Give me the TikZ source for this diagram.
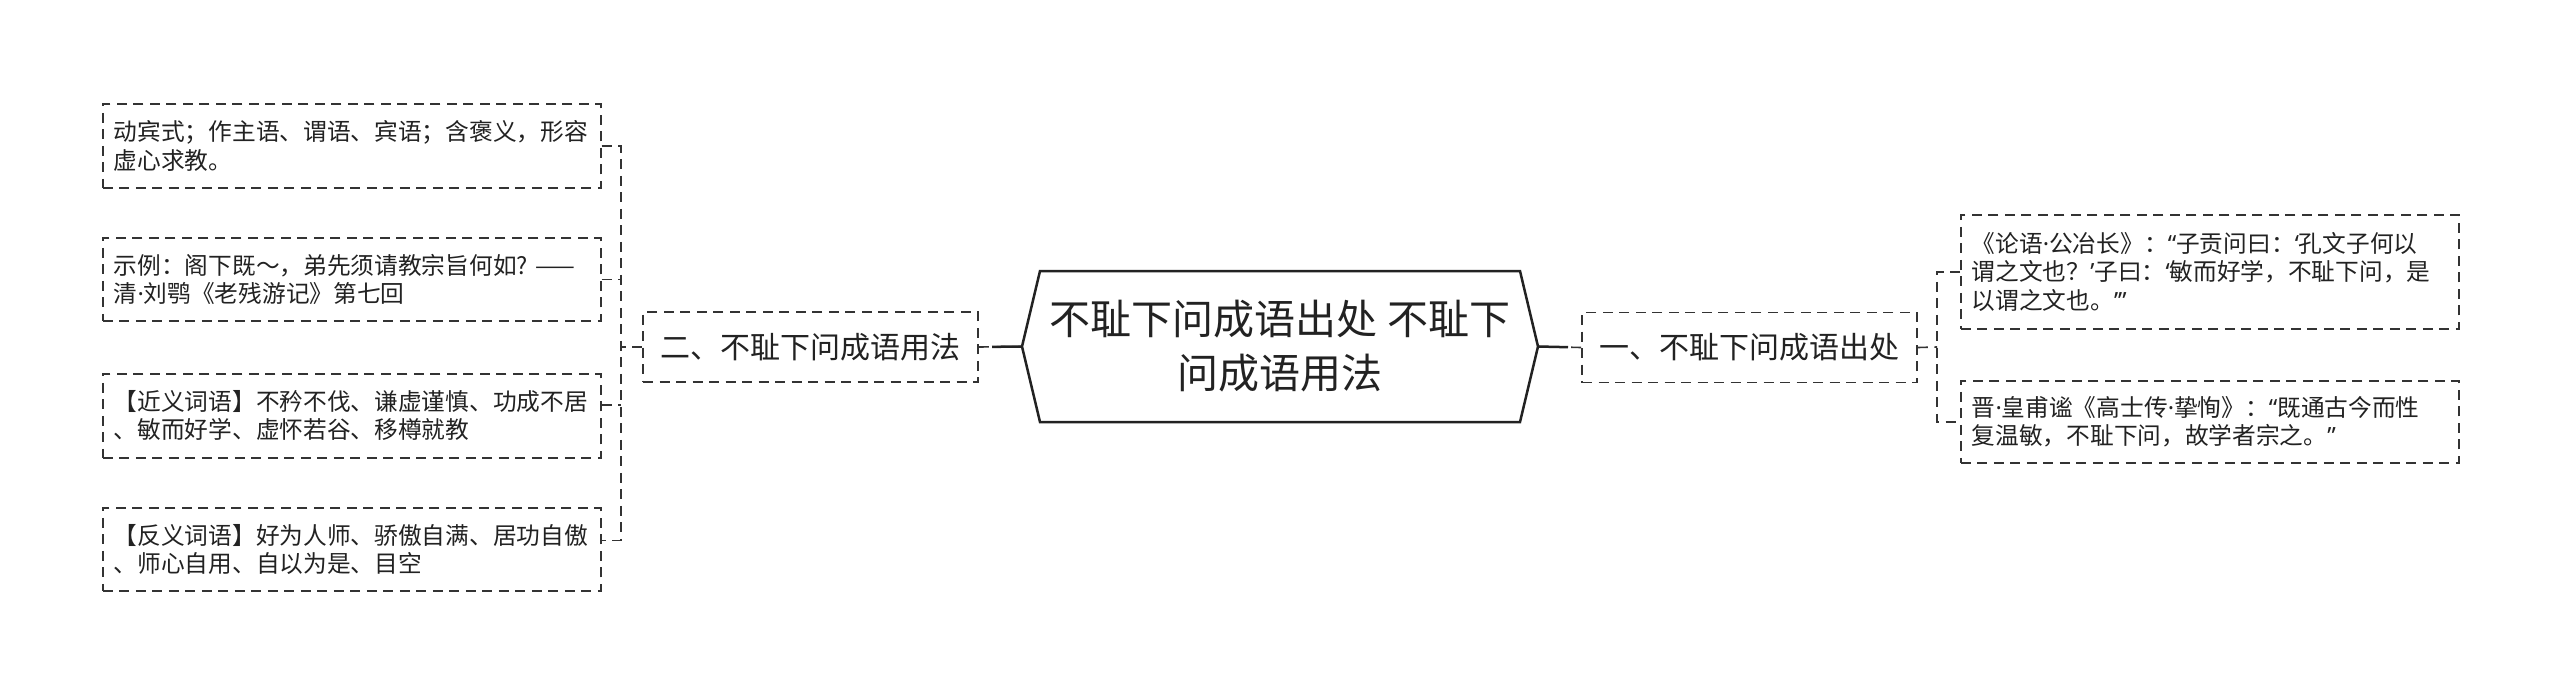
\documentclass[tikz,border=0pt]{standalone}
\usepackage{fontspec}
\newfontfamily\cjk{Noto Sans CJK SC}
\newfontfamily\latf{Noto Sans}
\newcommand\pdot{{\latf ·}}
\newcommand\qlo{{\latf “}}
\newcommand\qrc{{\latf ”}}
\newcommand\qls{{\latf ‘}}
\newcommand\qrs{{\latf ’}}
\usetikzlibrary{calc}
\definecolor{ink}{HTML}{222222}
\definecolor{dashc}{HTML}{333333}
\begin{document}
\begin{tikzpicture}[x=1pt,y=-1pt,
  dline/.style={draw=dashc, line width=1.6pt, dash pattern=on 10pt off 6.5pt},
  leaf/.style={dline, anchor=north west, minimum width=498pt, minimum height=#1,
    text width=476pt, inner xsep=11pt, inner ysep=0pt, align=left,
    font=\cjk\fontsize{23.7}{28.3}\selectfont, text=ink},
  lvone/.style={dline, minimum width=335pt, minimum height=70pt, inner sep=0pt,
    font=\cjk\fontsize{30}{36}\selectfont, text=ink},
  hexline/.style={draw=ink, line width=2.5pt, line join=miter},
  thickcon/.style={draw=ink, line width=2.5pt}
]
\fill[white] (0,0) rectangle (2560,694);
\useasboundingbox (0,0) rectangle (2560,694);

% central hexagon
\coordinate (hl) at (1022,346.5);
\coordinate (hr) at (1538,346.5);
\coordinate (htl) at (1040,271);
\coordinate (htr) at (1520,271);
\coordinate (hbl) at (1040,422);
\coordinate (hbr) at (1520,422);
\draw[hexline] (hl) -- (htl) -- (htr) -- (hr) -- (hbr) -- (hbl) -- cycle;
\node[align=center, font=\cjk\fontsize{41}{54}\selectfont, text=ink, inner sep=0pt] (c) at (1280,346.5)
  {不耻下问成语出处 不耻下\\问成语用法};

% level one
\node[lvone] (L) at (810.5,347) {二、不耻下问成语用法};
\node[lvone] (R) at (1749.5,347.5) {一、不耻下问成语出处};

% left leaves
\node[leaf=84pt] (l1) at (102,103) {动宾式；作主语、谓语、宾语；含褒义，形容\\虚心求教。};
\node[leaf=83pt] (l2) at (102,237) {示例：阁下既～，弟先须请教宗旨何如?~——\\清\pdot 刘鹗《老残游记》第七回};
\node[leaf=84pt] (l3) at (102,373) {【近义词语】不矜不伐、谦虚谨慎、功成不居\\、敏而好学、虚怀若谷、移樽就教};
\node[leaf=83pt] (l4) at (102,507) {【反义词语】好为人师、骄傲自满、居功自傲\\、师心自用、自以为是、目空};

% right leaves
\node[leaf=114pt] (r1) at (1960,214) {《论语\pdot 公冶长》：\qlo 子贡问曰：\qls 孔文子何以\\谓之文也？\qrs 子曰：\qls 敏而好学，不耻下问，是\\以谓之文也。\qrs\qrc};
\node[leaf=82pt] (r2) at (1960,380) {晋\pdot 皇甫谧《高士传\pdot 挚恂》：\qlo 既通古今而性\\复温敏，不耻下问，故学者宗之。\qrc};

% connectors hexagon -> level one
\draw[dline] (L.east) -- (hl);
\draw[thickcon] (hl) -- ($(hl)!30pt!(L.east)$);
\draw[dline] (R.west) -- (hr);
\draw[thickcon] (hr) -- ($(hr)!30pt!(R.west)$);

% left trunk
\coordinate (tl) at (621,347);
\coordinate (a3) at ($(l3.east)+(0,-11)$);
\coordinate (a4) at ($(l4.east)+(0,-9)$);
\draw[dline] (l1.east) -| (tl) |- (a4);
\draw[dline] (l2.east) -- (l2.east -| tl);
\draw[dline] (a3) -- (a3 -| tl);
\draw[dline] (L.west) -- (tl);

% right trunk
\coordinate (tr) at (1937,347);
\draw[dline] (r1.west) -| (tr) |- (r2.west);
\draw[dline] (R.east) -- (tr);
\end{tikzpicture}
\end{document}
